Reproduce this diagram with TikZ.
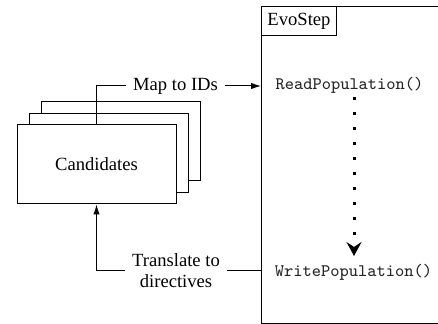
\documentclass[tikz,border=0pt]{standalone}
\usepackage{fontspec}
\setmainfont{Liberation Serif}
\usetikzlibrary{arrows.meta}

\tikzset{
  every picture/.style={x=0.5pt,y=-0.5pt},
  thin line/.style={line width=0.5pt,draw=black},
  card/.style={thin line,fill=white,minimum width=79.5pt,minimum height=39.5pt,
    inner sep=0pt,font=\fontsize{9.3}{11}\selectfont},
  label/.style={fill=white,inner xsep=3.2pt,inner ysep=1pt,align=center,
    font=\fontsize{9.3}{10.5}\selectfont},
  call/.style={inner sep=0pt,text=black!85,font=\fontsize{8.8}{10}\selectfont\ttfamily},
  tip/.style={-{Latex[length=5pt,width=3.2pt]}},
}

\begin{document}
\begin{tikzpicture}
\useasboundingbox (0,0) rectangle (438,324);

% the step box runs past the right edge of the page
\begin{scope}
  \clip (0,0) rectangle (438,324);
  \node[thin line,anchor=north west,minimum width=92pt,minimum height=158.25pt,
        inner sep=0pt] (evo) at (261,6.5) {};
\end{scope}
\node[thin line,anchor=north west,minimum width=37.5pt,minimum height=14.25pt,
      inner sep=0pt,font=\fontsize{9.3}{11}\selectfont] (evolabel) at (evo.north west) {EvoStep};

% calls inside the step
\node[call,anchor=base] (read) at (349.5,90) {ReadPopulation()};
\node[call,anchor=base] (write) at (353.5,276.7) {WritePopulation()};
\coordinate (flowtop) at (354,97.5);
\coordinate (flowend) at (354,256);
\draw[line width=1.5pt,dash pattern=on 1.5pt off 6pt,
      -{Stealth[length=7pt,width=7.5pt,inset=2.5pt]}] (flowtop) -- (flowend);

% stack of candidate cards
\node[card] (cand3) at (120.5,141.5) {};
\node[card] (cand2) at (108.5,153) {};
\node[card] (cand) at (96.5,164.5) {Candidates};

% connector labels
\node[label] (maplabel) at (175.5,86) {Map to IDs};
\node[label] (translabel) at (176,271) {Translate to\\directives};

% connectors
\draw[thin line] (cand.north) |- (maplabel.west);
\draw[thin line,tip] (maplabel.east) -- (evo.west |- maplabel);
\draw[thin line] (evo.west |- translabel) -- (translabel.east);
\draw[thin line,tip] (translabel.west) -| (cand.south);
\end{tikzpicture}
\end{document}
